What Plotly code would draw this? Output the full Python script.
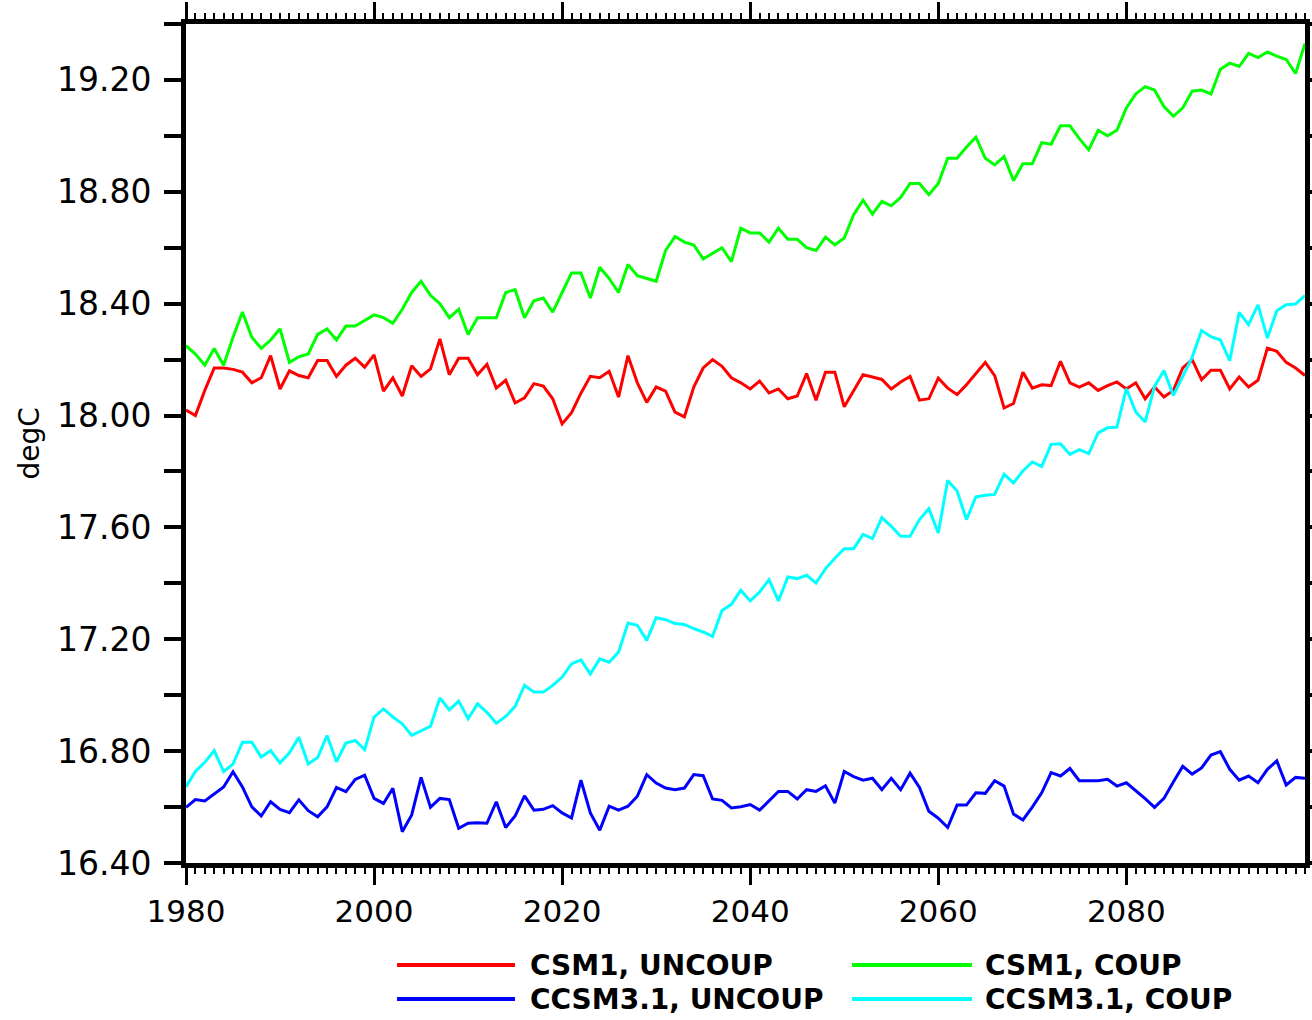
import plotly.graph_objects as go

years = list(range(1980, 2100))

csm1_uncoup = [
    18.02, 18.00, 18.09, 18.17, 18.17, 18.165, 18.155, 18.117, 18.135, 18.214,
    18.095, 18.16, 18.143, 18.135, 18.197, 18.197, 18.14, 18.18, 18.205, 18.173,
    18.217, 18.087, 18.135, 18.07, 18.178, 18.14, 18.167, 18.274, 18.146, 18.205,
    18.205, 18.146, 18.183, 18.098, 18.126, 18.045, 18.063, 18.114, 18.105, 18.06,
    17.97, 18.01, 18.08, 18.14, 18.135, 18.158, 18.066, 18.214, 18.117, 18.047,
    18.102, 18.087, 18.012, 17.995, 18.102, 18.17, 18.2, 18.176, 18.135, 18.117,
    18.095, 18.123, 18.081, 18.095, 18.06, 18.07, 18.15, 18.055, 18.155, 18.155,
    18.031, 18.087, 18.146, 18.138, 18.129, 18.095, 18.12, 18.14, 18.055, 18.06,
    18.134, 18.098, 18.075, 18.11, 18.15, 18.19, 18.143, 18.027, 18.043, 18.155,
    18.098, 18.11, 18.107, 18.194, 18.117, 18.102, 18.117, 18.09, 18.107, 18.12,
    18.095, 18.117, 18.06, 18.102, 18.066, 18.09, 18.17, 18.2, 18.128, 18.162,
    18.162, 18.095, 18.138, 18.102, 18.126, 18.241, 18.23, 18.19, 18.17, 18.143,
]

csm1_coup = [
    18.25, 18.22, 18.18, 18.24, 18.18, 18.28, 18.37, 18.28, 18.24, 18.27,
    18.31, 18.19, 18.21, 18.22, 18.29, 18.31, 18.27, 18.32, 18.32, 18.34,
    18.36, 18.35, 18.33, 18.38, 18.44, 18.48, 18.43, 18.40, 18.35, 18.38,
    18.29, 18.35, 18.35, 18.35, 18.44, 18.45, 18.35, 18.41, 18.42, 18.37,
    18.44, 18.51, 18.51, 18.42, 18.53, 18.49, 18.44, 18.54, 18.50, 18.49,
    18.48, 18.59, 18.64, 18.62, 18.61, 18.56, 18.58, 18.60, 18.55, 18.67,
    18.653, 18.653, 18.62, 18.67, 18.63, 18.63, 18.60, 18.59, 18.638, 18.61,
    18.635, 18.718, 18.77, 18.72, 18.766, 18.75, 18.78, 18.83, 18.83, 18.79,
    18.83, 18.92, 18.92, 18.96, 18.995, 18.92, 18.896, 18.926, 18.84, 18.90,
    18.90, 18.976, 18.97, 19.036, 19.036, 18.99, 18.95, 19.02, 19.00, 19.02,
    19.10, 19.15, 19.176, 19.164, 19.105, 19.07, 19.10, 19.16, 19.164, 19.15,
    19.238, 19.26, 19.248, 19.295, 19.28, 19.30, 19.285, 19.273, 19.223, 19.33,
]

ccsm31_uncoup = [
    16.599, 16.627, 16.622, 16.646, 16.672, 16.726, 16.672, 16.601, 16.568, 16.619,
    16.592, 16.58, 16.626, 16.587, 16.565, 16.601, 16.67, 16.655, 16.699, 16.714,
    16.631, 16.613, 16.667, 16.512, 16.572, 16.706, 16.599, 16.631, 16.627, 16.524,
    16.542, 16.544, 16.542, 16.619, 16.527, 16.568, 16.64, 16.589, 16.592, 16.605,
    16.579, 16.561, 16.696, 16.579, 16.517, 16.603, 16.589, 16.603, 16.639, 16.716,
    16.686, 16.668, 16.662, 16.668, 16.716, 16.712, 16.629, 16.624, 16.597, 16.601,
    16.609, 16.589, 16.624, 16.656, 16.656, 16.629, 16.662, 16.656, 16.676, 16.614,
    16.727, 16.709, 16.696, 16.703, 16.662, 16.703, 16.662, 16.721, 16.67, 16.585,
    16.56, 16.527, 16.607, 16.607, 16.651, 16.649, 16.694, 16.675, 16.575, 16.554,
    16.60, 16.651, 16.723, 16.711, 16.738, 16.694, 16.694, 16.694, 16.699, 16.675,
    16.687, 16.66, 16.63, 16.599, 16.631, 16.69, 16.746, 16.718, 16.74, 16.786,
    16.798, 16.735, 16.696, 16.711, 16.687, 16.735, 16.765, 16.679, 16.706, 16.703,
]

ccsm31_coup = [
    16.673, 16.727, 16.76, 16.802, 16.727, 16.754, 16.832, 16.832, 16.779, 16.802,
    16.758, 16.794, 16.85, 16.754, 16.777, 16.856, 16.762, 16.829, 16.838, 16.805,
    16.922, 16.951, 16.922, 16.898, 16.856, 16.874, 16.889, 16.99, 16.948, 16.979,
    16.916, 16.969, 16.939, 16.9, 16.924, 16.96, 17.035, 17.011, 17.011, 17.035,
    17.065, 17.112, 17.126, 17.076, 17.13, 17.118, 17.154, 17.258, 17.25, 17.196,
    17.277, 17.27, 17.256, 17.253, 17.238, 17.226, 17.21, 17.303, 17.325, 17.375,
    17.337, 17.369, 17.413, 17.337, 17.423, 17.417, 17.429, 17.401, 17.452, 17.49,
    17.524, 17.524, 17.575, 17.56, 17.635, 17.604, 17.568, 17.568, 17.628, 17.667,
    17.58, 17.768, 17.73, 17.628, 17.709, 17.715, 17.718, 17.79, 17.759, 17.802,
    17.834, 17.818, 17.897, 17.899, 17.861, 17.878, 17.864, 17.938, 17.956, 17.959,
    18.096, 18.013, 17.977, 18.104, 18.161, 18.072, 18.143, 18.208, 18.304, 18.282,
    18.27, 18.196, 18.369, 18.325, 18.396, 18.277, 18.375, 18.396, 18.399, 18.429,
]

series_names = ["CSM1, UNCOUP", "CSM1, COUP", "CCSM3.1, UNCOUP", "CCSM3.1, COUP"]
series_colors = ["#FF0000", "#00FF00", "#0000FF", "#00FFFF"]
series_values = [csm1_uncoup, csm1_coup, ccsm31_uncoup, ccsm31_coup]

x_tickvals = [1980, 2000, 2020, 2040, 2060, 2080]
x_ticktext = ["1980", "2000", "2020", "2040", "2060", "2080"]
y_tickvals = [16.4, 16.6, 16.8, 17.0, 17.2, 17.4, 17.6, 17.8, 18.0, 18.2,
              18.4, 18.6, 18.8, 19.0, 19.2, 19.4]
y_ticktext = ["16.40", "", "16.80", "", "17.20", "", "17.60", "", "18.00", "",
              "18.40", "", "18.80", "", "19.20", ""]
y_title = "degC"

FONT = "DejaVu Sans"

fig = go.Figure()
for name, color, vals in zip(series_names, series_colors, series_values):
    fig.add_trace(go.Scatter(x=years, y=vals, mode="lines", name=name,
                             line=dict(color=color, width=3), showlegend=False))

# manual legend (2 x 2) below the plot, positions in paper units
# plot area: x 186..1305 (1119 px), y 24..863 (839 px)
legend_pos = [(0.1886, 0.2940, 0.3056, -0.1216),
              (0.5952, 0.7024, 0.7122, -0.1216),
              (0.1886, 0.2940, 0.3056, -0.1621),
              (0.5952, 0.7024, 0.7122, -0.1621)]
shapes = []
annotations = []
for (x0, x1, xt, yy), name, color in zip(legend_pos, series_names, series_colors):
    shapes.append(dict(type="line", xref="paper", yref="paper", x0=x0, x1=x1,
                       y0=yy, y1=yy, line=dict(color=color, width=4)))
    annotations.append(dict(xref="paper", yref="paper", x=xt, y=yy, text=name,
                            showarrow=False, xanchor="left", yanchor="middle",
                            font=dict(family=FONT, size=28, color="black",
                                      weight="bold")))

annotations.append(dict(xref="paper", yref="paper", x=(29 - 186) / 1119, y=0.5,
                        text=y_title, textangle=-90, showarrow=False,
                        xanchor="center", yanchor="middle",
                        font=dict(family=FONT, size=28, color="black")))

fig.update_layout(
    width=1312, height=1020,
    margin=dict(l=186, r=7, t=24, b=157, autoexpand=False),
    paper_bgcolor="white", plot_bgcolor="white",
    shapes=shapes, annotations=annotations,
    showlegend=False,
)
fig.update_xaxes(
    range=[1980, 2099], tickvals=x_tickvals, ticktext=x_ticktext, automargin=False,
    showgrid=False, zeroline=False, showline=True, linecolor="black", linewidth=5,
    mirror="ticks", ticks="outside", ticklen=17, tickwidth=3, tickcolor="black",
    tickfont=dict(family=FONT, size=31, color="black"), ticklabelstandoff=0,
    minor=dict(dtick=1, tick0=1980, ticks="outside", ticklen=6, tickwidth=2,
               tickcolor="black", showgrid=False),
)
fig.update_yaxes(
    range=[16.4, 19.4], tickvals=y_tickvals, ticktext=y_ticktext, automargin=False,
    showgrid=False, zeroline=False, showline=True, linecolor="black", linewidth=5,
    mirror="ticks", ticks="outside", ticklen=17, tickwidth=4, tickcolor="black",
    tickfont=dict(family=FONT, size=33, color="black"), ticklabelstandoff=6,
)

# remove the default 8px page margin so the figure fills the 1312x1020 window
fig.write_html("out.html",
               config={"displayModeBar": False},
               post_script="document.body.style.margin='0';"
                           "document.body.style.overflow='hidden';")
